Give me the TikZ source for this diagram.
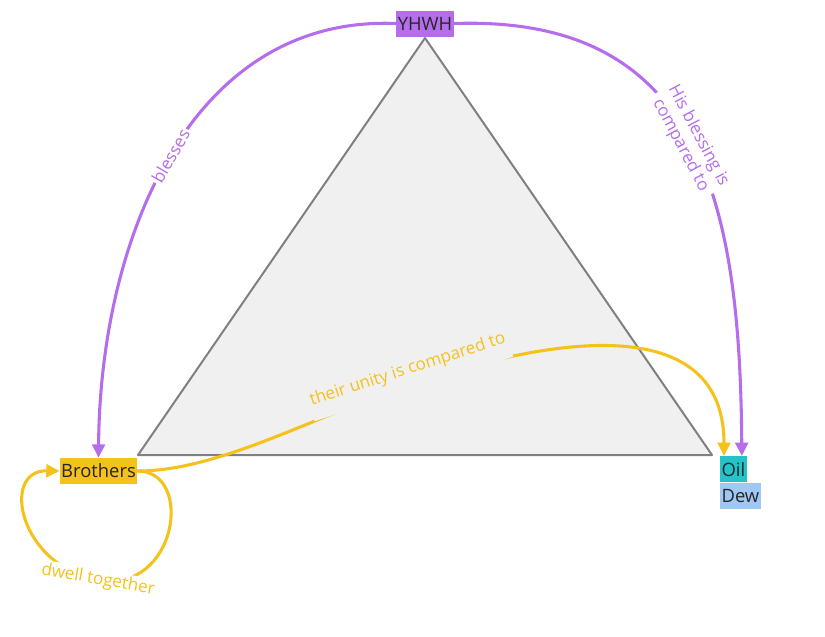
\documentclass[tikz,border=0pt]{standalone}
\usepackage{fontspec}
\setmainfont{Open Sans}
\usetikzlibrary{arrows.meta}
\definecolor{godpurple}{HTML}{B66DEB}
\definecolor{unityyellow}{HTML}{F4C21B}
\definecolor{oilteal}{HTML}{22C4C9}
\definecolor{dewblue}{HTML}{A0C8F4}
\definecolor{trifill}{HTML}{F0F0F0}
\definecolor{triedge}{HTML}{808080}
\tikzset{
  entity/.style={inner xsep=1pt, inner ysep=0pt, minimum height=19.5pt, text=black!85, font=\fontsize{13.8}{16}\selectfont},
  rel/.style={line width=2.3pt, -{Triangle[length=10pt,width=9.5pt]}},
  rellabel/.style={font=\fontsize{12.8}{15}\selectfont, inner sep=1.5pt},
}
\begin{document}
\begin{tikzpicture}[x=0.75pt, y=-0.75pt, line join=round, line cap=round]
	\useasboundingbox (0,0) rectangle (825,636);
	% the triangle
	\draw[triedge, fill=trifill, line width=1.5pt] (425,38) -- (712,455) -- (138,455) -- cycle;
	% the three corners
	\node[entity, fill=godpurple] (yhwh) at (425,23.5) {YHWH};
	\node[entity, fill=unityyellow] (brothers) at (98.5,471) {Brothers};
	\node[entity, fill=oilteal, anchor=north west] (oil) at (720,456) {Oil};
	\node[entity, fill=dewblue, anchor=north west] (dew) at (oil.south west) {Dew};
	% relations
	\draw[rel, godpurple] (yhwh.west) .. controls (190,15) and (100,240) .. (brothers.north)
		node[rellabel, pos=0.5, rotate=60, fill=white, text=godpurple] {blesses};
	\draw[rel, godpurple] (yhwh.east) .. controls (700,15) and (740,200) .. ([xshift=-3.75pt]oil.north east)
		node[rellabel, pos=0.5, rotate=-62, fill=white, text=godpurple, align=center] {His blessing is\\compared to};
	\draw[rel, unityyellow] (brothers.east) .. controls (220,471) and (313,416) .. (418,382)
		node[rellabel, rotate=18, xshift=-4.5pt, yshift=11pt, fill=trifill, minimum height=30pt, text=unityyellow] {their unity is compared to}
		.. controls (598,323) and (724,330) .. ([xshift=3pt]oil.north west);
	\draw[rel, unityyellow] (brothers.east) .. controls (195,471) and (177,594) .. (98,580)
		node[rellabel, rotate=-10, fill=white, text=unityyellow] {dwell together}
		.. controls (19,566) and (0,470) .. (brothers.west);
\end{tikzpicture}
\end{document}
